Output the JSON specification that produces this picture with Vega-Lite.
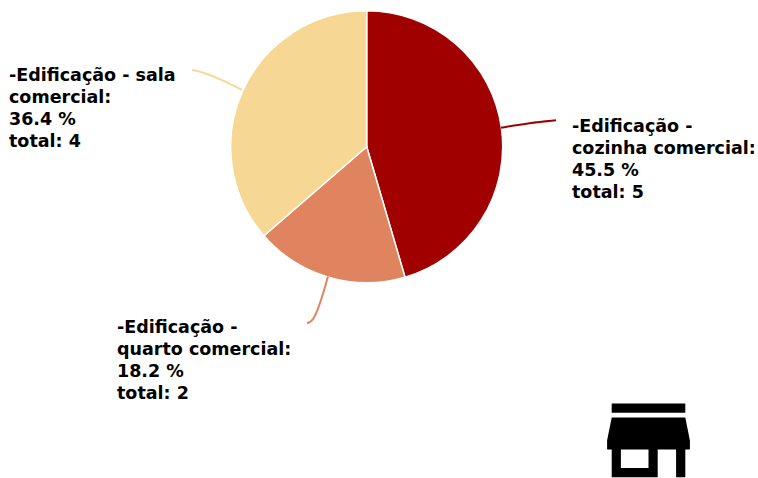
{"$schema":"https://vega.github.io/schema/vega-lite/v6.json","width":758,"height":478,"padding":0,"autosize":{"type":"fit","contains":"padding"},"background":"white","view":{"stroke":null},"config":{"font":"DejaVu Sans"},"encoding":{},"layer":[{"data":{"values":[{"categoria":"cozinha","total":5,"ordem":1},{"categoria":"quarto","total":2,"ordem":2},{"categoria":"sala","total":4,"ordem":3}]},"mark":{"type":"arc","outerRadius":136,"stroke":"white","strokeWidth":1.5},"encoding":{"x":{"datum":366.7,"type":"quantitative","scale":{"domain":[0,758],"nice":false,"zero":false},"axis":null},"y":{"datum":147,"type":"quantitative","scale":{"domain":[478,0],"nice":false,"zero":false},"axis":null},"theta":{"field":"total","type":"quantitative","stack":true},"order":{"field":"ordem"},"color":{"field":"categoria","type":"nominal","scale":{"domain":["cozinha","quarto","sala"],"range":["#a00000","#e0845f","#f7d794"]},"legend":null}}},{"data":{"values":[{"categoria":"cozinha","px":501,"py":128,"i":1},{"categoria":"cozinha","px":530,"py":123,"i":2},{"categoria":"cozinha","px":556,"py":120.5,"i":3},{"categoria":"quarto","px":328,"py":277,"i":1},{"categoria":"quarto","px":320,"py":305,"i":2},{"categoria":"quarto","px":313,"py":322,"i":3},{"categoria":"quarto","px":307,"py":324,"i":4},{"categoria":"sala","px":242,"py":90,"i":1},{"categoria":"sala","px":222,"py":80,"i":2},{"categoria":"sala","px":205,"py":73,"i":3},{"categoria":"sala","px":192,"py":70,"i":4}]},"mark":{"type":"line","interpolate":"basis","strokeWidth":2},"encoding":{"x":{"field":"px","type":"quantitative","scale":{"domain":[0,758],"nice":false,"zero":false},"axis":null},"y":{"field":"py","type":"quantitative","scale":{"domain":[478,0],"nice":false,"zero":false},"axis":null},"order":{"field":"i"},"detail":{"field":"categoria"},"color":{"field":"categoria","type":"nominal","scale":{"domain":["cozinha","quarto","sala"],"range":["#a00000","#e0845f","#f7d794"]},"legend":null}}},{"data":{"values":[{"rotulo":"-Edificação -\ncozinha comercial:\n45.5 %\ntotal: 5","lx":572,"ly":118},{"rotulo":"-Edificação -\nquarto comercial:\n18.2 %\ntotal: 2","lx":117,"ly":320},{"rotulo":"-Edificação - sala\ncomercial:\n36.4 %\ntotal: 4","lx":9,"ly":67}]},"mark":{"type":"text","align":"left","baseline":"top","font":"DejaVu Sans","fontWeight":"bold","fontSize":17.5,"lineHeight":22,"lineBreak":"\n","color":"black"},"encoding":{"x":{"field":"lx","type":"quantitative","scale":{"domain":[0,758],"nice":false,"zero":false},"axis":null},"y":{"field":"ly","type":"quantitative","scale":{"domain":[478,0],"nice":false,"zero":false},"axis":null},"text":{"field":"rotulo"}}},{"data":{"values":[{"icone":"loja","ix":648.5,"iy":441.3}]},"mark":{"type":"point","filled":true,"color":"black","opacity":1,"strokeWidth":0,"size":84.64,"shape":"M8 -8H-8v2H8V-8zM9 2v-2l-1 -5H-8l-1 5v2h1v6h10v-6h4v6h2v-6h1zM0 6H-6v-4h6v4z"},"encoding":{"x":{"field":"ix","type":"quantitative","scale":{"domain":[0,758],"nice":false,"zero":false},"axis":null},"y":{"field":"iy","type":"quantitative","scale":{"domain":[478,0],"nice":false,"zero":false},"axis":null}}}]}
